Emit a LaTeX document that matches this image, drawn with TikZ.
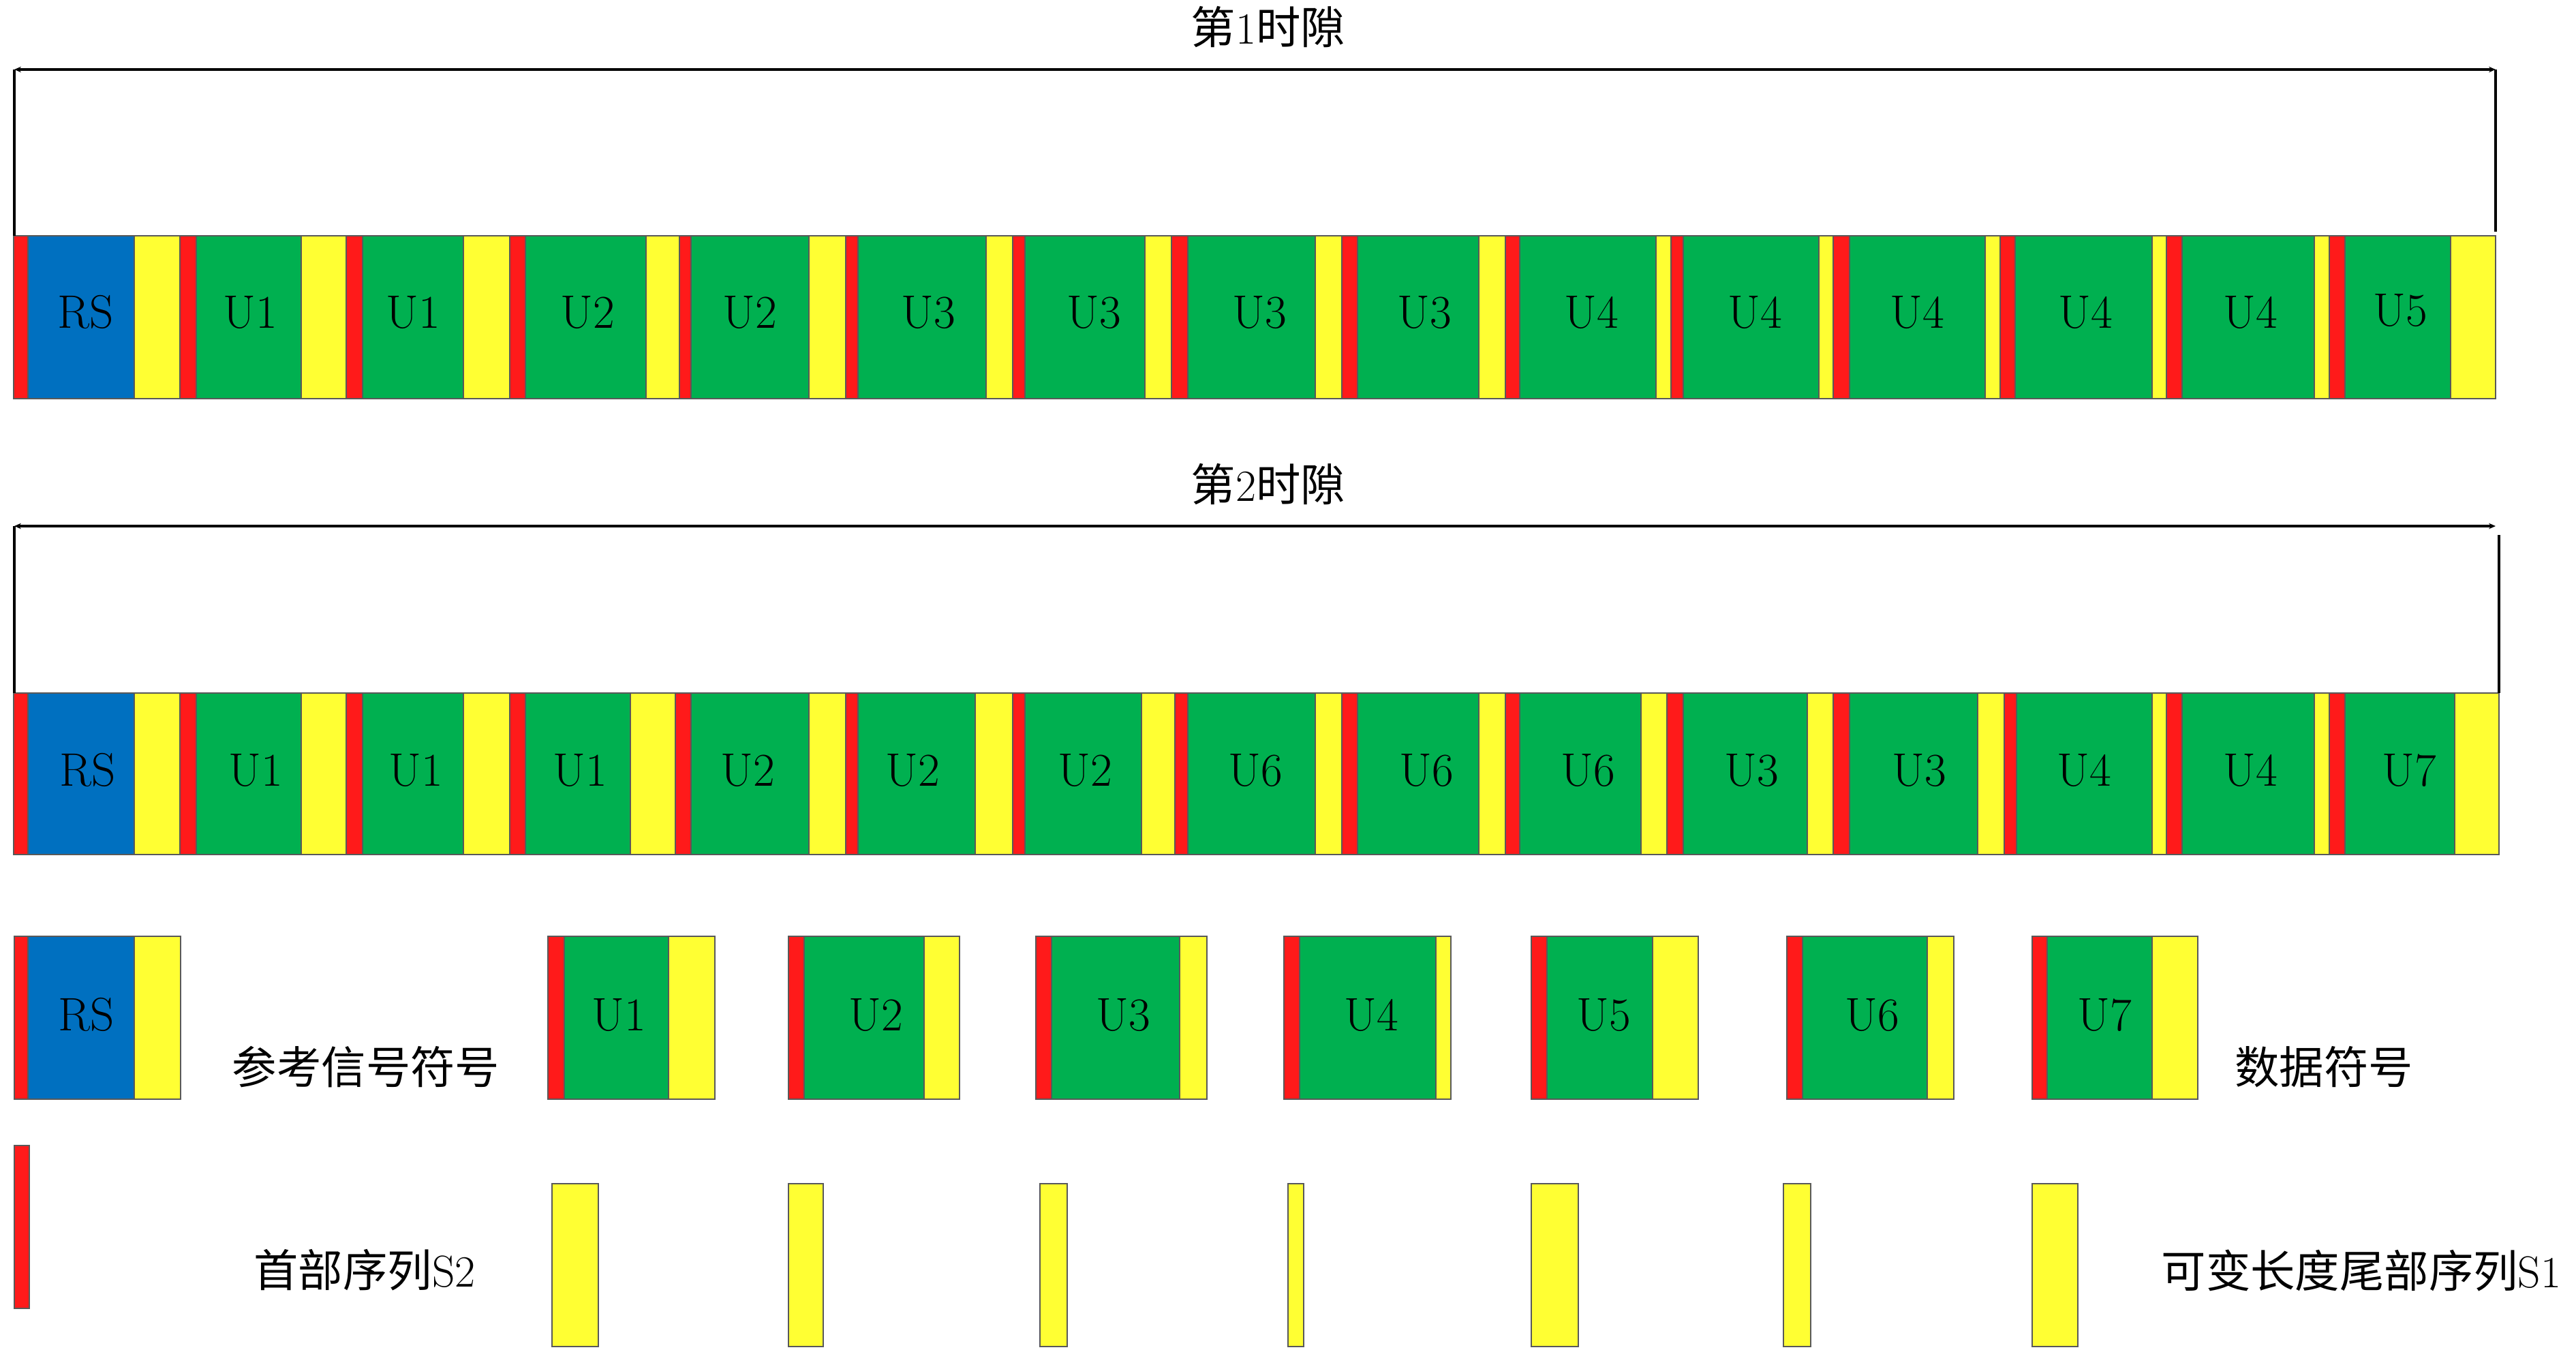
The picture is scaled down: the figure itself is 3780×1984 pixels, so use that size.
\documentclass[tikz,border=0pt]{standalone}
\usepackage{fontspec}
\newfontfamily\cjk{Noto Sans CJK SC}
\usetikzlibrary{arrows.meta}
\definecolor{cR}{HTML}{FF1A1A}
\definecolor{cB}{HTML}{0070C0}
\definecolor{cG}{HTML}{00B050}
\definecolor{cY}{HTML}{FFFF33}
\definecolor{edge}{HTML}{595959}
\tikzset{
  seg/.style={draw=edge, line width=0.7pt},
  lbl/.style={inner sep=0pt, font=\fontsize{19.6}{22}\selectfont},
  captxt/.style={inner sep=0pt, font=\fontsize{18.6}{22}\selectfont},
  brk/.style={line width=1pt, black},
  tipped/.style={{Stealth[length=2.8pt,width=2.4pt]}-{Stealth[length=2.8pt,width=2.4pt]}}
}
\begin{document}
\begin{tikzpicture}[x=0.01cm, y=-0.01cm]
\useasboundingbox (0,0) rectangle (3780,1984);

% ---------------- Slot 1 ----------------
\foreach \a/\b/\c in {20/41/cR, 41/197/cB, 197/264/cY, 264/288/cR, 288/442/cG, 442/508/cY, 508/532/cR,
  532/680/cG, 680/748/cY, 748/771/cR, 771/948/cG, 948/997/cY, 997/1014/cR, 1014/1187/cG, 1187/1241/cY,
  1241/1259/cR, 1259/1447/cG, 1447/1486/cY, 1486/1504/cR, 1504/1680/cG, 1680/1719/cY, 1719/1743/cR,
  1743/1930/cG, 1930/1969/cY, 1969/1992/cR, 1992/2170/cG, 2170/2209/cY, 2209/2230/cR, 2230/2430/cG,
  2430/2452/cY, 2452/2470/cR, 2470/2669/cG, 2669/2690/cY, 2690/2714/cR, 2714/2913/cG, 2913/2935/cY,
  2935/2957/cR, 2957/3158/cG, 3158/3179/cY, 3179/3202/cR, 3202/3396/cG, 3396/3418/cY, 3418/3441/cR,
  3441/3596/cG, 3596/3662/cY}
  \draw[seg, fill=\c] (\a,346) rectangle (\b,585);

\node[lbl, anchor=base] (a0) at (126,481) {RS};
\foreach \xx/\t [count=\i] in {367/U1, 606/U1, 862/U2, 1100/U2, 1362/U3, 1605/U3, 1848/U3, 2090/U3,
  2335/U4, 2575/U4, 2813/U4, 3060/U4, 3302/U4}
  \node[lbl, anchor=base] (a\i) at (\xx,481) {\t};
\node[lbl, anchor=base] (a14) at (3522,478) {U5};

\node[captxt] (t1) at (1861,40) {{\cjk 第}1{\cjk 时隙}};
\coordinate (b1l) at (21,102);
\coordinate (b1r) at (3662,102);
\coordinate (b1ld) at (21,346);
\coordinate (b1rd) at (3662,340);
\draw[brk, tipped] (b1l) -- (b1r);
\draw[brk] (b1l) -- (b1ld);
\draw[brk] (b1r) -- (b1rd);

% ---------------- Slot 2 ----------------
\foreach \a/\b/\c in {20/41/cR, 41/197/cB, 197/264/cY, 264/288/cR, 288/442/cG, 442/508/cY, 508/532/cR,
  532/680/cG, 680/748/cY, 748/771/cR, 771/925/cG, 925/991/cY, 991/1014/cR, 1014/1187/cG, 1187/1241/cY,
  1241/1259/cR, 1259/1431/cG, 1431/1486/cY, 1486/1504/cR, 1504/1675/cG, 1675/1724/cY, 1724/1743/cR,
  1743/1930/cG, 1930/1969/cY, 1969/1992/cR, 1992/2170/cG, 2170/2209/cY, 2209/2230/cR, 2230/2408/cG,
  2408/2446/cY, 2446/2470/cR, 2470/2652/cG, 2652/2690/cY, 2690/2714/cR, 2714/2902/cG, 2902/2941/cY,
  2941/2959/cR, 2959/3158/cG, 3158/3179/cY, 3179/3202/cR, 3202/3396/cG, 3396/3418/cY, 3418/3441/cR,
  3441/3602/cG, 3602/3667/cY}
  \draw[seg, fill=\c] (\a,1017) rectangle (\b,1254);

\node[lbl, anchor=base] (c0) at (129,1153) {RS};
\foreach \xx/\t [count=\i] in {375/U1, 610/U1, 851/U1, 1097/U2, 1339/U2, 1592/U2, 1842/U6, 2093/U6,
  2330/U6, 2570/U3, 2816/U3, 3058/U4, 3302/U4, 3535/U7}
  \node[lbl, anchor=base] (c\i) at (\xx,1153) {\t};

\node[captxt] (t2) at (1861,710) {{\cjk 第}2{\cjk 时隙}};
\coordinate (b2l) at (21,772);
\coordinate (b2r) at (3662,772);
\coordinate (b2ld) at (21,1017);
\coordinate (b2rt) at (3667,785);
\coordinate (b2rd) at (3667,1017);
\draw[brk, tipped] (b2l) -- (b2r);
\draw[brk] (b2l) -- (b2ld);
\draw[brk] (b2rt) -- (b2rd);

% ---------------- Legend: symbols ----------------
\foreach \a/\b/\c in {21/41/cR, 41/197/cB, 197/265/cY,
  804/828/cR, 828/981/cG, 981/1049/cY,
  1157/1180/cR, 1180/1356/cG, 1356/1408/cY,
  1520/1543/cR, 1543/1731/cG, 1731/1771/cY,
  1884/1907/cR, 1907/2107/cG, 2107/2129/cY,
  2247/2270/cR, 2270/2425/cG, 2425/2492/cY,
  2622/2645/cR, 2645/2828/cG, 2828/2867/cY,
  2982/3004/cR, 3004/3158/cG, 3158/3225/cY}
  \draw[seg, fill=\c] (\a,1374) rectangle (\b,1613);

\node[lbl, anchor=base] (l0) at (127,1512) {RS};
\foreach \xx/\t [count=\i] in {908/U1, 1285/U2, 1648/U3, 2012/U4, 2353/U5, 2747/U6, 3088/U7}
  \node[lbl, anchor=base] (l\i) at (\xx,1512) {\t};

\node[captxt] (refsym) at (537,1566) {\cjk 参考信号符号};
\node[captxt] (datsym) at (3410,1566) {\cjk 数据符号};

% ---------------- Legend: sequences ----------------
\draw[seg, fill=cR] (21,1681) rectangle (43,1920);
\foreach \a/\b in {810/878, 1157/1208, 1526/1566, 1890/1913, 2247/2316, 2617/2657, 2982/3049}
  \draw[seg, fill=cY] (\a,1737) rectangle (\b,1976);

\node[captxt] (s2) at (535,1864) {{\cjk 首部序列}S2};
\node[captxt] (s1) at (3465,1864) {{\cjk 可变长度尾部序列}S1};
\end{tikzpicture}
\end{document}
